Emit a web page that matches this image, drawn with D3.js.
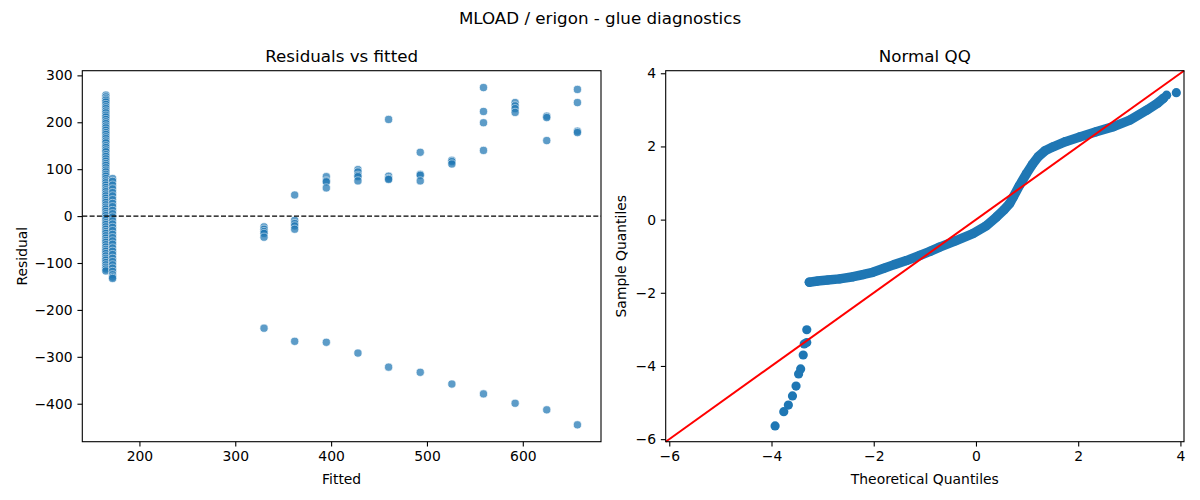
<!DOCTYPE html>
<html>
<head>
<meta charset="utf-8">
<script src="https://cdn.jsdelivr.net/npm/d3@7"></script>
<style>
  body { margin: 0; background: #fff; }
  text { font-family: "DejaVu Sans", sans-serif; fill: #000; }
</style>
</head>
<body>
<svg id="chart" width="1200" height="500"></svg>
<script>
// values
const colAFitted = 165
const colAResid = [258, 254, 250, 247, 243, 238, 233, 229, 224, 220, 215, 211, 206, 201, 197, 192, 188, 183, 178, 174,
  169, 165, 160, 156, 150, 146, 141, 137, 131, 127, 122, 117, 112, 108, 103, 98, 94, 89, 85, 80, 75, 71, 66, 61, 56,
  52, 47, 43, 38, 33, 29, 24, 19, 15, 10, 5, 1, -4, -9, -14, -18, -23, -28, -33, -37, -42, -47, -52, -56, -61, -66,
  -71, -75, -80, -85, -90, -94, -99, -104, -109, -113, -117]
const colBFitted = 172
const colBResid = [80, 74, 66, 58, 50, 43, 35, 27, 20, 12, 5, -2, -10, -17, -24, -31, -39, -46, -53, -60, -68, -75,
  -82, -90, -97, -104, -111, -118, -125, -130, -133]
const groupFitted = [330, 362, 395, 428, 460, 493, 526, 559, 592, 625, 657]
const groupResid = [
  [-23, -28, -33, -37, -45, -239],
  [45, -9, -16, -21, -28, -267],
  [84, 75, 73, 60, -269],
  [99, 94, 87, 84, 75, -292],
  [206, 85, 80, 78, -322],
  [136, 89, 87, 75, -333],
  [119, 116, 111, -358],
  [274, 223, 199, 140, -379],
  [242, 235, 229, 221, -399],
  [213, 210, 161, -413],
  [270, 242, 181, 178, -445]
]
const fittedTicks = [200, 300, 400, 500, 600]
const residTicks = [-400, -300, -200, -100, 0, 100, 200, 300]

// QQ: dense band, lower tail points, top end points
const qqBandTheo = [-3.26, -3.1, -2.9, -2.67, -2.4, -2.2, -2.02, -1.8, -1.6, -1.36, -1.1, -0.9, -0.71, -0.4, -0.06,
  0.2, 0.4, 0.55, 0.66, 0.73, 0.85, 0.99, 1.1, 1.22, 1.35, 1.51, 1.75, 2.03, 2.35, 2.69, 3.01, 3.34, 3.55, 3.67]
const qqBandSample = [-1.71, -1.68, -1.65, -1.62, -1.56, -1.5, -1.44, -1.33, -1.23, -1.12, -0.98, -0.87, -0.75, -0.58,
  -0.38, -0.17, 0.07, 0.27, 0.44, 0.62, 0.93, 1.26, 1.5, 1.72, 1.88, 1.99, 2.13, 2.26, 2.4, 2.54, 2.72, 2.99, 3.18, 3.32]
const qqTailTheo = [-3.31, -3.36, -3.31, -3.38, -3.43, -3.47, -3.52, -3.59, -3.67, -3.76, -3.93, 3.73, 3.92]
const qqTailSample = [-3.01, -3.4, -3.36, -3.7, -4.08, -4.22, -4.55, -4.82, -5.07, -5.25, -5.64, 3.4, 3.47]
const qqTicks = [-6, -4, -2, 0, 2, 4]
const qqLimits = [-6.07, 4.07]

const blue = "#1f77b4"
const svg = d3.select("#chart")
const tick = 4.86

svg.append("text")
  .attr("x", 600).attr("y", 24)
  .attr("text-anchor", "middle")
  .attr("font-size", "16.7px")
  .text("MLOAD / erigon - glue diagnostics")

function makePanel(box, xDomain, yDomain, xTicks, yTicks, title, xLabel, yLabel, yLabelX) {
  var x = d3.scaleLinear().domain(xDomain).range([box.left, box.right])
  var y = d3.scaleLinear().domain(yDomain).range([box.bottom, box.top])

  var gx = svg.append("g")
    .attr("transform", "translate(0," + box.bottom + ")")
    .call(d3.axisBottom(x).tickValues(xTicks).tickSize(tick).tickPadding(tick).tickSizeOuter(0))
  var gy = svg.append("g")
    .attr("transform", "translate(" + box.left + ",0)")
    .call(d3.axisLeft(y).tickValues(yTicks).tickSize(tick).tickPadding(tick).tickSizeOuter(0))
  gx.select(".domain").remove()
  gy.select(".domain").remove()
  svg.selectAll(".tick text").attr("font-size", "13.9px").attr("font-family", "DejaVu Sans, sans-serif")
  svg.selectAll(".tick line").attr("stroke-width", 1.1)

  svg.append("text")
    .attr("x", (box.left + box.right) / 2).attr("y", box.top - 8.5)
    .attr("text-anchor", "middle").attr("font-size", "16.7px")
    .text(title)
  svg.append("text")
    .attr("x", (box.left + box.right) / 2).attr("y", 484)
    .attr("text-anchor", "middle").attr("font-size", "13.9px")
    .text(xLabel)
  svg.append("text")
    .attr("transform", "translate(" + yLabelX + "," + (box.top + box.bottom) / 2 + ") rotate(-90)")
    .attr("dy", "0.35em")
    .attr("text-anchor", "middle").attr("font-size", "13.9px")
    .text(yLabel)

  var plot = svg.append("g")
  svg.append("rect")
    .attr("x", box.left).attr("y", box.top)
    .attr("width", box.right - box.left).attr("height", box.bottom - box.top)
    .attr("fill", "none").attr("stroke", "#000").attr("stroke-width", 1.1)
  return { x: x, y: y, plot: plot }
}

// ---- left: residuals vs fitted
var points = []
colAResid.forEach(function (r) { points.push([colAFitted, r]) })
colBResid.forEach(function (r) { points.push([colBFitted, r]) })
groupFitted.forEach(function (f, i) {
  groupResid[i].forEach(function (r) { points.push([f, r]) })
})

function padded(ext) {
  var m = (ext[1] - ext[0]) * 0.05
  return [ext[0] - m, ext[1] + m]
}
var xDom = padded(d3.extent(points, function (d) { return d[0] }))
var yDom = padded(d3.extent(points, function (d) { return d[1] }))

var left = makePanel({ left: 82.3, right: 601, top: 70.7, bottom: 441.7 },
  xDom, yDom, fittedTicks, residTicks, "Residuals vs fitted", "Fitted", "Residual", 22)

left.plot.selectAll("circle")
  .data(points)
  .enter().append("circle")
  .attr("cx", function (d) { return left.x(d[0]) })
  .attr("cy", function (d) { return left.y(d[1]) })
  .attr("r", 4.1)
  .attr("fill", blue)
  .attr("stroke", "#fff")
  .attr("stroke-width", 0.7)
  .attr("opacity", 0.72)

left.plot.append("line")
  .attr("x1", left.x(xDom[0])).attr("x2", left.x(xDom[1]))
  .attr("y1", left.y(0)).attr("y2", left.y(0))
  .attr("stroke", "#000").attr("stroke-width", 1.3)
  .attr("stroke-dasharray", "5,2.3")

// ---- right: normal QQ
var right = makePanel({ left: 665.7, right: 1184, top: 70.7, bottom: 441.7 },
  qqLimits, qqLimits, qqTicks, qqTicks, "Normal QQ", "Theoretical Quantiles", "Sample Quantiles", 621)

var band = qqBandTheo.map(function (t, i) { return [t, qqBandSample[i]] })
var tail = qqTailTheo.map(function (t, i) { return [t, qqTailSample[i]] })

right.plot.append("path")
  .datum(band)
  .attr("d", d3.line()
    .x(function (d) { return right.x(d[0]) })
    .y(function (d) { return right.y(d[1]) }))
  .attr("fill", "none")
  .attr("stroke", blue)
  .attr("stroke-width", 9.5)
  .attr("stroke-linecap", "round")
  .attr("stroke-linejoin", "round")

right.plot.selectAll("circle")
  .data(band.concat(tail))
  .enter().append("circle")
  .attr("cx", function (d) { return right.x(d[0]) })
  .attr("cy", function (d) { return right.y(d[1]) })
  .attr("r", 4.6)
  .attr("fill", blue)

right.plot.append("line")
  .attr("x1", right.x(qqLimits[0])).attr("y1", right.y(qqLimits[0]))
  .attr("x2", right.x(qqLimits[1])).attr("y2", right.y(qqLimits[1]))
  .attr("stroke", "red").attr("stroke-width", 2)
</script>
</body>
</html>
